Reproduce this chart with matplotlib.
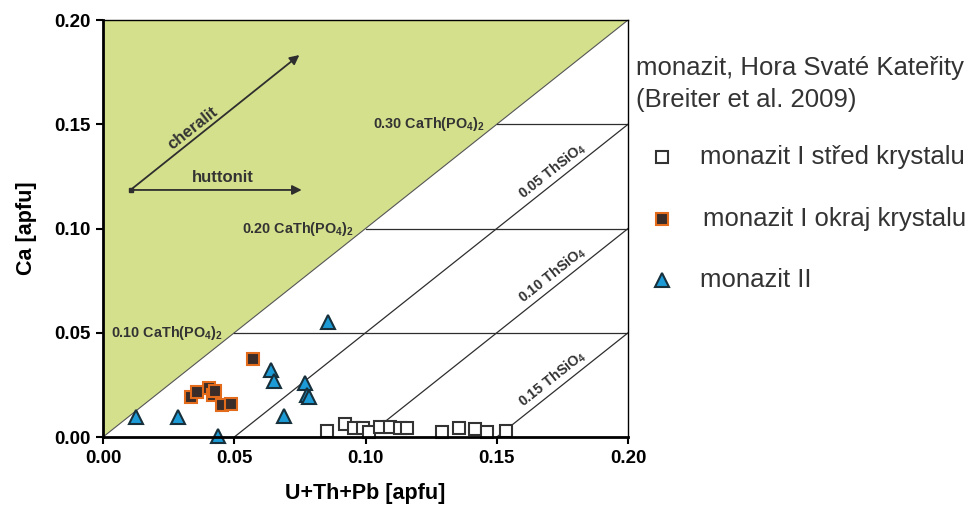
import matplotlib
matplotlib.use("Agg")
import matplotlib.pyplot as plt
from matplotlib.lines import Line2D
from matplotlib.patches import Polygon

plt.rcParams['font.family'] = ['Liberation Sans', 'DejaVu Sans']
plt.rcParams['mathtext.fontset'] = 'custom'
plt.rcParams['mathtext.rm'] = 'Liberation Sans:bold'
plt.rcParams['mathtext.bf'] = 'Liberation Sans:bold'
plt.rcParams['mathtext.it'] = 'Liberation Sans:bold'

# --- data: U+Th+Pb [apfu] vs Ca [apfu] ---
stred_x = [0.0852, 0.0922, 0.0957, 0.0992, 0.1014, 0.1055, 0.1093, 0.1131,
           0.1157, 0.1290, 0.1357, 0.1417, 0.1462, 0.1535]
stred_y = [0.0030, 0.0062, 0.0042, 0.0042, 0.0026, 0.0047, 0.0047, 0.0042,
           0.0042, 0.0026, 0.0042, 0.0038, 0.0026, 0.0030]

okraj_x = [0.0570, 0.0334, 0.0359, 0.0404, 0.0420, 0.0428, 0.0455, 0.0486]
okraj_y = [0.0374, 0.0190, 0.0217, 0.0237, 0.0201, 0.0220, 0.0153, 0.0161]

mon2_x = [0.0126, 0.0284, 0.0439, 0.0639, 0.0651, 0.0770, 0.0776, 0.0786,
          0.0690, 0.0856]
mon2_y = [0.0094, 0.0094, 0.0006, 0.0321, 0.0269, 0.0261, 0.0201, 0.0190,
          0.0101, 0.0553]

cath_levels = [0.10, 0.20, 0.30]      # CaTh(PO4)2 fraction
cath_ca = [0.05, 0.10, 0.15]          # corresponding Ca [apfu]
thsio_levels = [0.05, 0.10, 0.15]     # ThSiO4 fraction
axis_ticks = [0.00, 0.05, 0.10, 0.15, 0.20]

DARK = '#2e2e2e'
GREEN = '#d4e08c'

fig = plt.figure(figsize=(9.76, 5.13), dpi=100)
ax = fig.add_axes([0.1055, 0.148, 0.538, 0.813])
ax.set_xlim(0, 0.2)
ax.set_ylim(0, 0.2)

# cheralite field above the 1:1 line
ax.add_patch(Polygon([[0, 0], [0.2, 0.2], [0, 0.2]], closed=True,
                     facecolor=GREEN, edgecolor='#555555', lw=0.8, zorder=1))

# CaTh(PO4)2 isolines
for lev, ca in zip(cath_levels, cath_ca):
    ax.plot([ca, 0.2], [ca, ca], color=DARK, lw=0.9, zorder=2)
    ax.text(ca - 0.0045, ca, r'%.2f CaTh(PO$_{\mathbf{4}}$)$_{\mathbf{2}}$' % lev,
            ha='right', va='center', fontsize=10.4, fontweight='bold',
            color='#333333', zorder=3)

# ThSiO4 isolines
for lev in thsio_levels:
    ax.plot([lev, 0.2], [0, 0.2 - lev], color=DARK, lw=0.9, zorder=2)
    ax.text(0.1712, 0.1712 - lev + 0.0066, r'%.2f ThSiO$_{\mathbf{4}}$' % lev,
            ha='center', va='center', rotation=38.4, rotation_mode='anchor',
            fontsize=10.3, fontweight='bold', color='#333333', zorder=3)

# substitution vectors
start = (0.0105, 0.1185)
ax.plot([start[0]], [start[1]], marker='s', ms=3, color=DARK, zorder=4)
ax.annotate('', xy=(0.0757, 0.1185), xytext=start,
            arrowprops=dict(arrowstyle='-|>', color=DARK, lw=1.3,
                            mutation_scale=14, shrinkA=0, shrinkB=0))
ax.annotate('', xy=(0.0748, 0.1832), xytext=start,
            arrowprops=dict(arrowstyle='-|>', color=DARK, lw=1.3,
                            mutation_scale=14, shrinkA=0, shrinkB=0))
ax.text(0.0457, 0.1243, 'huttonit', ha='center', va='center',
        fontsize=12, fontweight='bold', color='#333333')
ax.text(0.0343, 0.1482, 'cheralit', ha='center', va='center', rotation=38.2,
        fontsize=12, fontweight='bold', color='#333333')

# data
sty_stred = dict(marker='s', ms=9, mfc='white', mec='#333333', mew=1.5, ls='none')
sty_okraj = dict(marker='s', ms=9, mfc='#3a2c28', mec='#e36c1c', mew=1.5, ls='none')
sty_mon2 = dict(marker='^', ms=10, mfc='#1c9bd6', mec='#17303c', mew=1.5, ls='none')
ax.plot(stred_x, stred_y, zorder=5, clip_on=False, **sty_stred)
ax.plot(okraj_x, okraj_y, zorder=5, clip_on=False, **sty_okraj)
ax.plot(mon2_x, mon2_y, zorder=5, clip_on=False, **sty_mon2)

# axes styling
ax.set_xticks(axis_ticks)
ax.set_yticks(axis_ticks)
ax.set_xticklabels(['%.2f' % t for t in axis_ticks])
ax.set_yticklabels(['%.2f' % t for t in axis_ticks])
for lab in ax.get_xticklabels() + ax.get_yticklabels():
    lab.set_fontweight('bold')
ax.tick_params(direction='out', length=5, width=1.5, labelsize=13.5,
               colors='black', pad=4)
ax.spines['left'].set_linewidth(2.0)
ax.spines['bottom'].set_linewidth(2.0)
ax.spines['top'].set_linewidth(1.0)
ax.spines['right'].set_linewidth(1.0)
for sp in ax.spines.values():
    sp.set_zorder(6)
ax.set_xlabel('U+Th+Pb [apfu]', fontsize=15.5, fontweight='bold', labelpad=12)
ax.set_ylabel('Ca [apfu]', fontsize=15.5, fontweight='bold', labelpad=12)

# key
fig.text(0.652, 0.867, 'monazit, Hora Svaté Kateřity', fontsize=18.5,
         color='#333333', ha='left', va='center')
fig.text(0.652, 0.805, '(Breiter et al. 2009)', fontsize=18.5,
         color='#333333', ha='left', va='center')
key_labels = ['monazit I střed krystalu', 'monazit I okraj krystalu', 'monazit II']
key_styles = [sty_stred, sty_okraj, sty_mon2]
key_y = [0.694, 0.574, 0.454]
key_tx = [0.717, 0.720, 0.717]
for lab, sty, yy, tx in zip(key_labels, key_styles, key_y, key_tx):
    fig.add_artist(Line2D([0.678], [yy], transform=fig.transFigure, **sty))
    fig.text(tx, yy, lab, fontsize=18.5, color='#333333', ha='left', va='center')

fig.savefig('out.png', dpi=100)
